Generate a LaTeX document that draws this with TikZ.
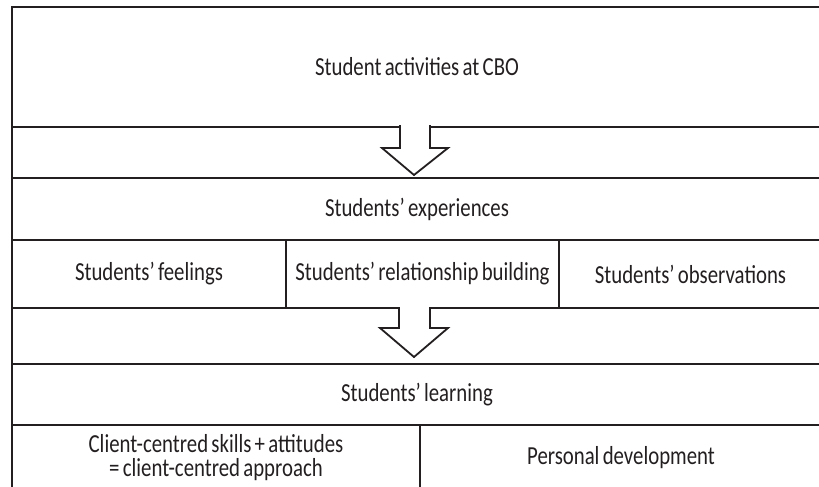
\documentclass[tikz,border=0pt]{standalone}
\usepackage{fontspec}
\setmainfont{Carlito}[FakeStretch=0.8,WordSpace=0.7]
\usetikzlibrary{positioning}

\definecolor{ink}{HTML}{231F20}

\begin{document}
\begin{tikzpicture}[x=1pt,y=-1pt,
  cell/.style={draw=ink,line width=2pt,inner sep=0pt,anchor=north west,text=ink,
    font=\fontsize{26}{24}\selectfont,align=center},
  blockarrow/.style={draw=ink,line width=1.8pt,fill=white,line join=miter}]
\useasboundingbox (0,0) rectangle (819,487);
\clip (0,0) rectangle (819,487);

% rows, top to bottom
\node [cell,minimum width=810pt,minimum height=120pt] (act) at (11,6) {Student activities at CBO};
\node [cell,minimum width=810pt,minimum height=51pt] (gapa) at (11,126) {};
\node [cell,minimum width=810pt,minimum height=62pt] (exper) at (11,177) {Students’ experiences};
\node [cell,minimum width=274pt,minimum height=68pt] (feel) at (11,239) {Students’ feelings};
\node [cell,minimum width=273pt,minimum height=68pt] (rel) at (285,239) {Students’ relationship building};
\node [cell,minimum width=263pt,minimum height=68pt] (obs) at (558,239) {Students’ observations};
\node [cell,minimum width=810pt,minimum height=56pt] (gapb) at (11,307) {};
\node [cell,minimum width=810pt,minimum height=61pt] (learn) at (11,363) {Students’ learning};
\node [cell,minimum width=408pt,minimum height=65pt] (skills) at (11,424) {Client-centred skills + attitudes\\= client-centred approach};
\node [cell,minimum width=402pt,minimum height=65pt] (pers) at (419,424) {Personal development};

% block arrows between the rows
\draw [blockarrow] (400,125) -- (400,148) -- (382,148) -- (414,175) -- (448,148) -- (430,148) -- (430,125);
\draw [blockarrow] (399,307) -- (399,328) -- (380,328) -- (414,357) -- (448,328) -- (430,328) -- (430,307);
\end{tikzpicture}
\end{document}
